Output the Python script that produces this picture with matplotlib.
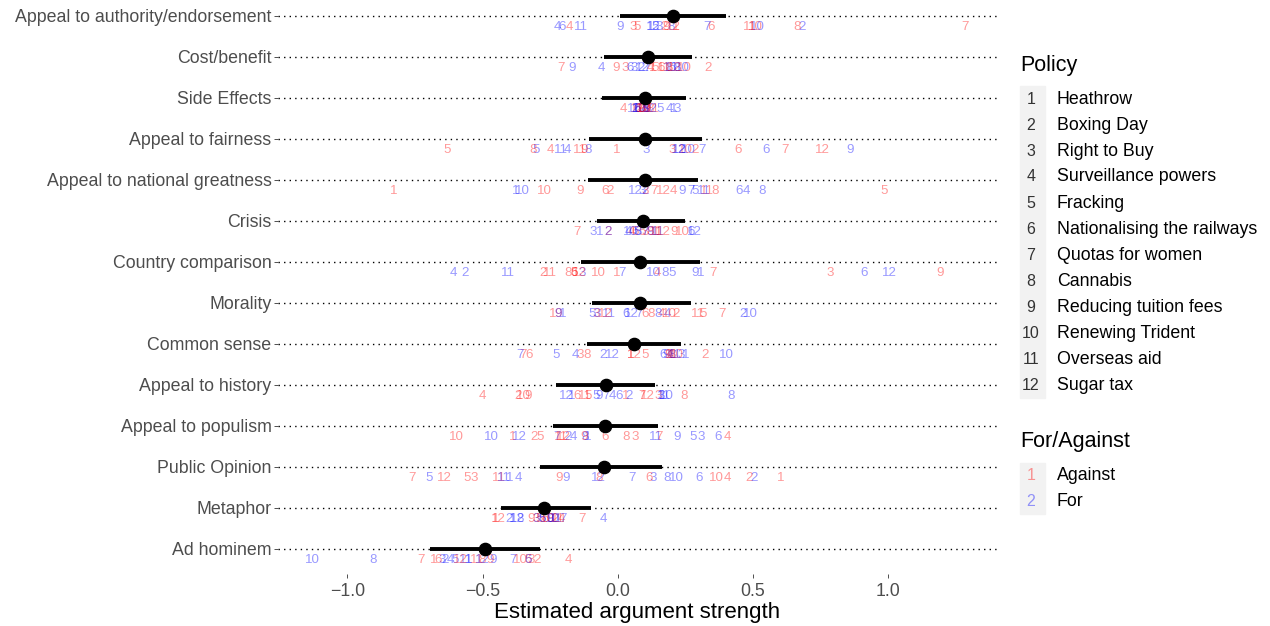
import matplotlib
matplotlib.use("Agg")
import matplotlib.pyplot as plt
from matplotlib.patches import Rectangle

plt.rcParams['font.family'] = ['Liberation Sans', 'DejaVu Sans']

# argument types, top to bottom
categories = ["Appeal to authority/endorsement", "Cost/benefit", "Side Effects",
              "Appeal to fairness", "Appeal to national greatness", "Crisis",
              "Country comparison", "Morality", "Common sense", "Appeal to history",
              "Appeal to populism", "Public Opinion", "Metaphor", "Ad hominem"]

estimate = [0.204, 0.111, 0.102, 0.102, 0.099, 0.094, 0.082, 0.082, 0.060, -0.043,
            -0.046, -0.049, -0.271, -0.492]
ci_low = [0.009, -0.049, -0.060, -0.106, -0.109, -0.078, -0.135, -0.097, -0.114, -0.228,
          -0.238, -0.288, -0.433, -0.693]
ci_high = [0.402, 0.273, 0.252, 0.312, 0.298, 0.249, 0.303, 0.269, 0.232, 0.138,
           0.147, 0.164, -0.100, -0.288]

policies = ["Heathrow", "Boxing Day", "Right to Buy", "Surveillance powers", "Fracking",
            "Nationalising the railways", "Quotas for women", "Cannabis",
            "Reducing tuition fees", "Renewing Trident", "Overseas aid", "Sugar tax"]

# per-policy estimates (policy 1..12), one row per argument type
against = [
    [0.215, 0.17, 0.056, -0.177, 0.073, 0.345, 1.283, 0.664, 0.18, 0.51, 0.49, 0.205],
    [0.13, 0.334, 0.027, 0.12, 0.14, 0.16, -0.208, 0.19, -0.007, 0.245, 0.17, 0.21],
    [0.06, 0.08, 0.09, 0.022, 0.1, 0.07, 0.11, 0.12, 0.085, 0.1, 0.13, 0.095],
    [-0.003, 0.286, 0.2, -0.25, -0.63, 0.445, 0.618, -0.313, -0.126, 0.25, -0.14, 0.755],
    [-0.828, -0.029, 0.1, 0.204, 0.985, -0.046, 0.133, 0.36, -0.138, -0.273, 0.33, 0.167],
    [0.14, -0.034, 0.1, 0.05, 0.09, 0.065, -0.152, 0.12, 0.21, 0.24, 0.14, 0.17],
    [-0.003, -0.276, 0.784, 0.147, -0.162, -0.16, 0.354, -0.182, 1.19, -0.072, -0.25, -0.14],
    [-0.242, 0.215, -0.08, 0.16, 0.317, 0.1, 0.385, 0.125, -0.22, 0.19, 0.295, -0.045],
    [0.048, 0.324, -0.14, 0.19, 0.1, -0.327, -0.35, -0.114, 0.185, 0.215, 0.2, 0.06],
    [0.03, -0.37, 0.15, -0.5, -0.11, -0.15, 0.09, 0.247, -0.33, -0.348, -0.12, 0.11],
    [-0.387, -0.31, 0.065, 0.405, -0.285, -0.046, 0.153, 0.031, -0.123, -0.595, -0.21, -0.2],
    [0.601, 0.487, -0.531, 0.405, -0.557, 0.116, -0.761, -0.07, -0.216, 0.363, -0.438, -0.642],
    [-0.45, -0.23, -0.3, -0.21, -0.29, -0.27, -0.131, -0.25, -0.32, -0.26, -0.22, -0.44],
    [-0.68, -0.3, -0.32, -0.182, -0.33, -0.665, -0.727, -0.5, -0.47, -0.36, -0.52, -0.58],
]
favour = [
    [0.12, 0.683, 0.153, -0.225, 0.14, -0.205, 0.329, 0.198, 0.009, 0.516, -0.135, 0.13],
    [0.18, 0.085, 0.06, -0.06, 0.2, 0.045, 0.11, 0.22, -0.17, 0.24, 0.2, 0.09],
    [0.205, 0.065, 0.22, 0.19, 0.158, 0.07, 0.09, 0.1, 0.11, 0.08, 0.06, 0.12],
    [0.21, 0.235, 0.107, -0.187, -0.30, 0.55, 0.31, -0.109, 0.86, 0.26, -0.21, 0.227],
    [-0.378, 0.1, 0.09, 0.477, 0.286, 0.448, 0.27, 0.533, 0.238, -0.353, 0.32, 0.065],
    [-0.068, -0.034, -0.089, 0.04, 0.07, 0.27, 0.1, 0.075, 0.12, 0.045, 0.15, 0.285],
    [0.307, -0.566, -0.13, -0.608, 0.2, 0.911, 0.014, 0.175, 0.286, 0.13, -0.407, 1.005],
    [-0.204, 0.465, -0.075, 0.185, -0.094, 0.031, 0.08, 0.15, -0.22, 0.49, -0.034, 0.05],
    [0.25, -0.055, 0.235, -0.157, -0.228, 0.166, -0.36, 0.2, 0.18, 0.402, 0.21, -0.02],
    [-0.17, 0.04, 0.16, -0.02, -0.08, 0.005, -0.045, 0.419, -0.07, 0.18, 0.17, -0.19],
    [-0.11, -0.182, 0.308, -0.165, 0.278, 0.371, -0.225, -0.12, 0.218, -0.467, 0.14, -0.365],
    [-0.40, 0.504, 0.133, -0.366, -0.698, 0.3, 0.053, 0.184, -0.19, 0.218, -0.42, -0.07],
    [-0.39, -0.4, -0.3, -0.055, -0.28, -0.28, -0.204, -0.36, -0.25, -0.24, -0.23, -0.37],
    [-0.55, -0.64, -0.65, -0.62, -0.6, -0.33, -0.387, -0.906, -0.46, -1.128, -0.56, -0.5],
]
stances = ["Against", "For"]

W, H = 1270, 626
fig = plt.figure(figsize=(W / 100, H / 100), dpi=100)
ax = fig.add_axes([278 / W, (H - 574) / H, 719 / W, 574 / H])

n = len(categories)
ys = [n - i for i in range(n)]
red = (1, 0, 0, 0.4)
blue = (0, 0, 1, 0.4)

for i, y in enumerate(ys):
    ax.axhline(y, color="black", lw=1.0, ls=(0, (1, 3)), zorder=1)
    ax.plot([ci_low[i], ci_high[i]], [y, y], color="black", lw=2.8,
            solid_capstyle="butt", zorder=3)
    ax.plot(estimate[i], y, "o", color="black", ms=8.8, zorder=4)
    for p in range(12):
        ax.text(against[i][p], y - 0.28, str(p + 1), color=red, fontsize=9.6,
                ha="center", va="center", zorder=2)
        ax.text(favour[i][p], y - 0.28, str(p + 1), color=blue, fontsize=9.6,
                ha="center", va="center", zorder=2)

ax.set_xlim(-1.256, 1.402)
ax.set_ylim(0.39, n + 0.39)
ax.set_xticks([-1.0, -0.5, 0.0, 0.5, 1.0])
ax.set_xticklabels(["\u22121.0", "\u22120.5", "0.0", "0.5", "1.0"])
ax.set_yticks(ys)
ax.set_yticklabels(categories)
ax.tick_params(axis="both", colors="#333333", labelcolor="#4D4D4D",
               labelsize=12.8, length=3.2, width=0.6)
ax.tick_params(axis="x", pad=3)
ax.tick_params(axis="y", pad=1.5)
for s in ax.spines.values():
    s.set_visible(False)
ax.set_xlabel("Estimated argument strength", fontsize=16, color="black", labelpad=2)

# legends drawn by hand
def fy(py):
    return (H - py) / H

fig.text(1020 / W, fy(65), "Policy", fontsize=15.5, va="center", ha="left")
fig.patches.append(Rectangle((1020 / W, fy(398)), 25 / W, 312 / H,
                             transform=fig.transFigure, color="#F2F2F2", zorder=0))
for k, name in enumerate(policies):
    yy = fy(99 + 26 * k)
    fig.text(1031 / W, yy, str(k + 1), fontsize=11.5, color="#333333",
             va="center", ha="center")
    fig.text(1057 / W, yy, name, fontsize=12.8, va="center", ha="left")

fig.text(1020 / W, fy(441), "For/Against", fontsize=15.5, va="center", ha="left")
fig.patches.append(Rectangle((1020 / W, fy(514)), 25 / W, 51 / H,
                             transform=fig.transFigure, color="#F2F2F2", zorder=0))
for k, (name, col) in enumerate(zip(stances, [red, blue])):
    yy = fy(476 + 26 * k)
    fig.text(1031 / W, yy, str(k + 1), fontsize=11.5, color=col,
             va="center", ha="center")
    fig.text(1057 / W, yy, name, fontsize=12.8, va="center", ha="left")

fig.savefig("out.png", dpi=100)
